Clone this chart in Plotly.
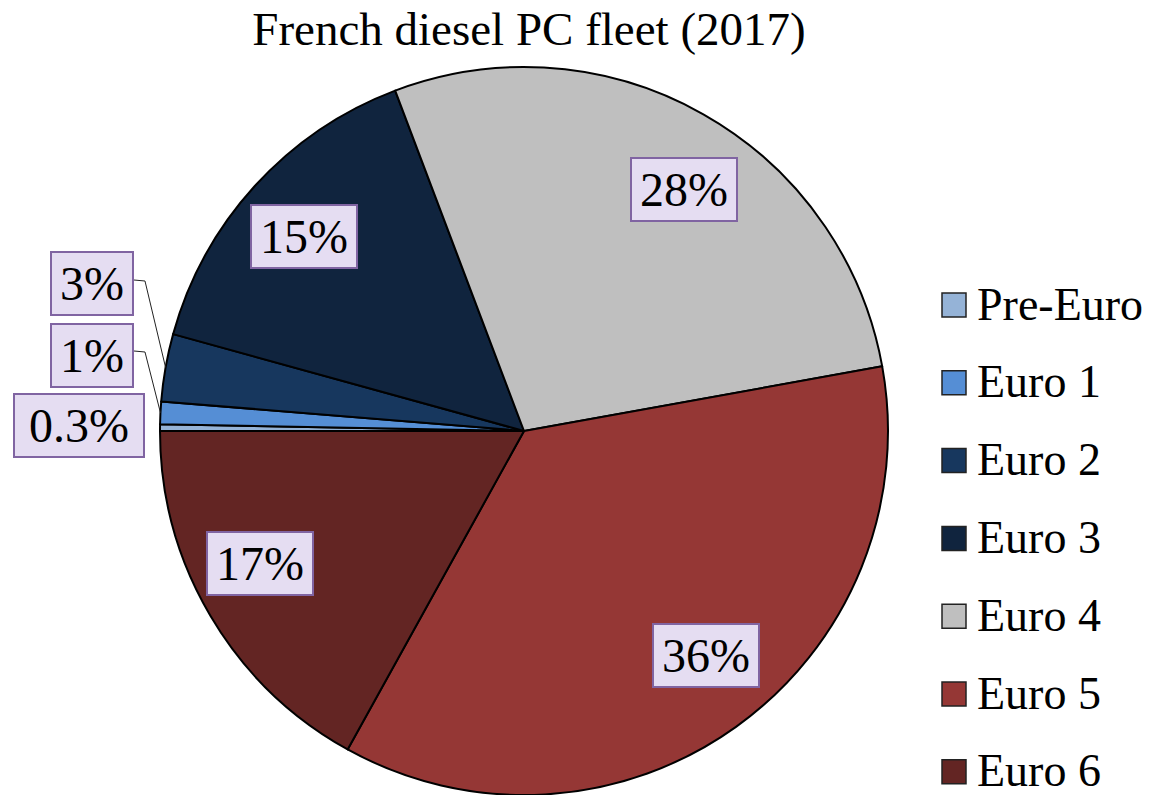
import math
import plotly.graph_objects as go

# ---- data ----
categories = ["Pre-Euro", "Euro 1", "Euro 2", "Euro 3", "Euro 4", "Euro 5", "Euro 6"]
shares = [0.3, 1, 3, 15, 28, 36, 17]
label_text = ["0.3%", "1%", "3%", "15%", "28%", "36%", "17%"]

# ---- styles ----
colors = ["#95B3D7", "#558ED5", "#17375E", "#10243E", "#BFBFBF", "#953735", "#632523"]
FONT = "Liberation Serif, Times New Roman, serif"
W, H = 1157, 795
CX, CY, R = 524, 431, 364          # pie centre / radius in pixels
ROT = 270                          # first slice starts at 9 o'clock

def px(x):
    return x / W

def py(y):
    return 1 - y / H

fig = go.Figure()
fig.add_trace(go.Pie(
    labels=categories, values=shares, sort=False, direction="clockwise",
    rotation=ROT, textinfo="none", hoverinfo="label+percent",
    marker=dict(colors=colors, line=dict(color="black", width=2)),
    domain=dict(x=[px(CX - R), px(CX + R)], y=[py(CY + R), py(CY - R)]),
    showlegend=False,
))

# mid-angle of each slice (pixel space, y down)
total = sum(shares)
cum = 0.0
mids = []
for v in shares:
    a_start = cum / total
    cum += v
    a_end = cum / total
    frac = (a_start + a_end) / 2
    ang = math.radians(ROT + 360 * frac)  # clockwise from 12 o'clock
    mids.append((math.sin(ang), -math.cos(ang)))

char_w = {"%": 0.833, ".": 0.25}
def text_w(t, size):
    return sum(char_w.get(c, 0.5) for c in t) * size

LBL_SIZE = 48
BOX_H = 57
# outside label placements (pixels) for the small slices
outside = {0: (79, 425, None), 1: (92, 355, 351), 2: (92, 284, 280)}
# small best-fit nudges for the inside labels (pixels)
nudge = {3: (-5, 2), 4: (17, 12), 5: (12, -12), 6: (-13, -15)}

annotations = []
shapes = []
for i, t in enumerate(label_text):
    ux, uy = mids[i]
    if i in outside:
        lx, ly, lead_y = outside[i]
    else:
        ndx, ndy = nudge.get(i, (0, 0))
        lx, ly = CX + 0.8 * R * ux + ndx, CY + 0.8 * R * uy + ndy
        lead_y = None
    wbox = text_w(t, LBL_SIZE) + (24 if len(t) > 3 else 12)
    annotations.append(dict(
        x=px(lx), y=py(ly), xref="paper", yref="paper", text=t, showarrow=False,
        font=dict(family=FONT, size=LBL_SIZE, color="black"),
        bgcolor="#E5DDF2", bordercolor="#8064A2", borderwidth=2, borderpad=2,
        width=wbox, height=BOX_H, xanchor="center", yanchor="middle",
    ))
    if lead_y is not None:
        right = lx + wbox / 2 + 4
        ex, ey = CX + R * ux, CY + R * uy
        path = f"M {px(right)},{py(lead_y)} L {px(right + 11)},{py(lead_y + 1)} L {px(ex)},{py(ey)}"
        shapes.append(dict(type="path", xref="paper", yref="paper", path=path,
                           line=dict(color="#222222", width=1)))

# custom legend
LEG_X0, LEG_Y0, LEG_DY, SQ = 942, 305, 77.8, 24
for i, name in enumerate(categories):
    cy = LEG_Y0 + i * LEG_DY
    shapes.append(dict(type="rect", xref="paper", yref="paper",
                       x0=px(LEG_X0), x1=px(LEG_X0 + SQ), y0=py(cy + SQ / 2), y1=py(cy - SQ / 2),
                       fillcolor=colors[i], line=dict(color="#222222", width=1.5)))
    annotations.append(dict(
        x=px(975), y=py(cy - 1), xref="paper", yref="paper", text=name, showarrow=False,
        xanchor="left", yanchor="middle", font=dict(family=FONT, size=46, color="black"),
    ))

fig.update_layout(
    width=W, height=H, margin=dict(l=0, r=0, t=0, b=0),
    paper_bgcolor="white", plot_bgcolor="white",
    title=dict(text="French diesel PC fleet (2017)", x=529 / W, xanchor="center",
               y=1 - 29 / H, yanchor="middle", yref="container",
               font=dict(family=FONT, size=47, color="black")),
    annotations=annotations, shapes=shapes,
)

fig.write_html("out.html", config={"displayModeBar": False},
               post_script="document.body.style.margin='0';document.body.style.overflow='hidden';")
